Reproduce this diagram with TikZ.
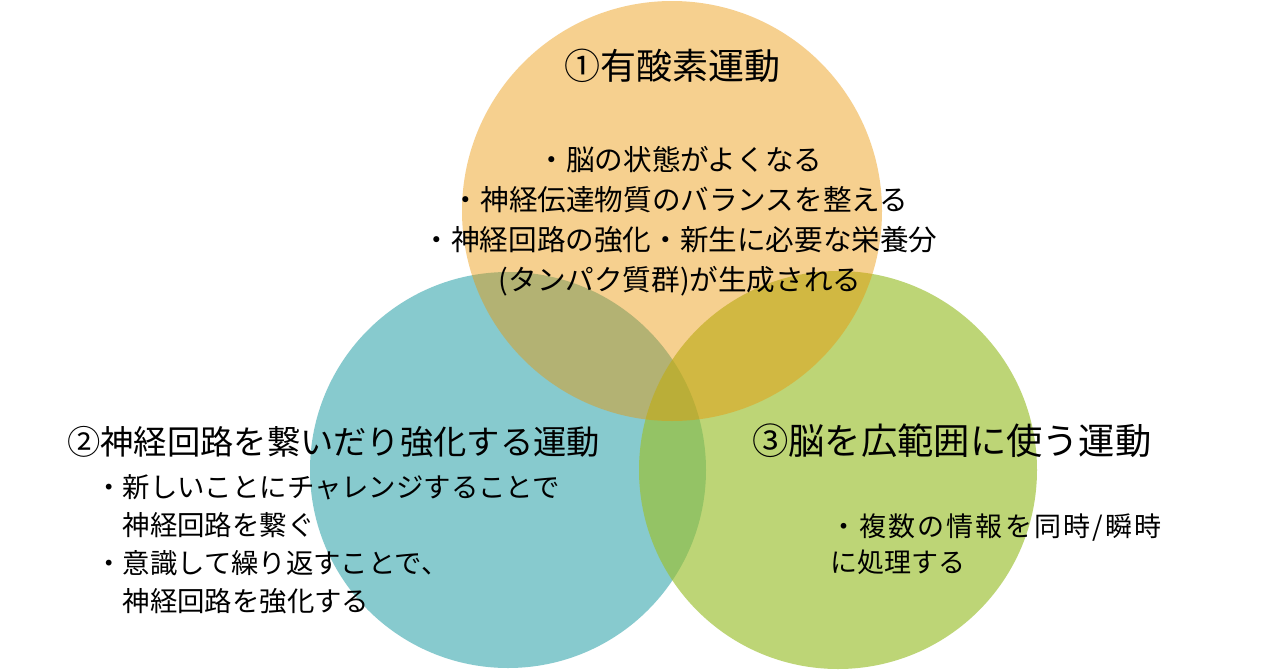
\documentclass[tikz,border=0pt]{standalone}
\usepackage{fontspec}
\setmainfont{Noto Sans CJK JP}
\definecolor{tealc}{RGB}{135,202,206}
\definecolor{greenc}{RGB}{155,192,45}
\definecolor{orangec}{RGB}{236,148,0}
\tikzset{
  circ/.style={draw=none},
  head/.style={inner sep=0pt, text=black},
  body/.style={inner sep=0pt, text=black},
}
\begin{document}
\begin{tikzpicture}[x=1pt,y=-1pt]
\useasboundingbox (0,0) rectangle (1280,670);
\fill[white] (0,0) rectangle (1280,670);
\fill[circ, tealc] (508,470) circle (198);
\fill[circ, greenc, opacity=0.65] (838,470) circle (199);
\fill[circ, orangec, opacity=0.44] (672,211) circle (210);
\node[head, font=\fontsize{36}{40}\selectfont] (h1) at (672,66) {①有酸素運動};
\node[body, align=center, font=\fontsize{28.6}{40}\selectfont] (b1) at (680,221)
  {・脳の状態がよくなる\\・神経伝達物質のバランスを整える\\・神経回路の強化・新生に必要な栄養分\\(タンパク質群)が生成される};
\node[head, anchor=west, font=\fontsize{33.3}{40}\selectfont] (h2) at (67,442) {②神経回路を繋いだり強化する運動};
\node[body, anchor=north west, align=left, font=\fontsize{27.4}{38}\selectfont] (b2) at (95,474)
  {・新しいことにチャレンジすることで\\　神経回路を繋ぐ\\・意識して繰り返すことで、\\　神経回路を強化する};
\node[head, anchor=west, font=\fontsize{36.3}{40}\selectfont] (h3) at (752,441) {③脳を広範囲に使う運動};
\node[body, anchor=north west, align=left, font=\fontsize{27}{36}\selectfont] (b3) at (830,514)
  {{\addfontfeature{LetterSpace=8}・複数の情報を同時/瞬時}\\に処理する};
\end{tikzpicture}
\end{document}
